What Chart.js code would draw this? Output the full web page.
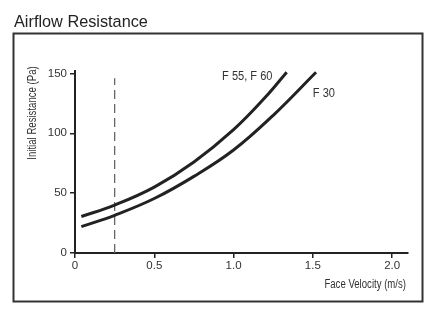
<!DOCTYPE html>
<html>
<head>
<meta charset="utf-8">
<script src="https://cdn.jsdelivr.net/npm/chart.js@4.4.0/dist/chart.umd.min.js"></script>
<style>
html, body { margin: 0; padding: 0; background: #fff; }
#grafico { display: block; }
</style>
</head>
<body>
<canvas id="grafico" width="444" height="322"></canvas>
<script>
// Datos
const series = ['F 55, F 60', 'F 30'];
const velocidadF55 = [0.04, 0.25, 0.5, 0.75, 1.0, 1.2, 1.335];
const resistenciaF55 = [30.5, 40, 55, 76, 103, 130, 151];
const velocidadF30 = [0.04, 0.25, 0.5, 0.75, 1.0, 1.25, 1.52];
const resistenciaF30 = [22, 31.5, 45.5, 64, 86, 115, 151];
const lineaVelocidad = [0.25, 0.25];
const lineaResistencia = [0, 146];
const ticksX = [0, 0.5, 1.0, 1.5, 2.0];
const ticksY = [0, 50, 100, 150];

const aPuntos = (xs, ys) => xs.map((x, i) => ({ x: x, y: ys[i] }));

const fuente = '"Liberation Sans", Arial, sans-serif';

// Texto estrecho (el original usa una fuente condensada)
function textoEstrecho(ctx, texto, x, y, escala) {
    ctx.save();
    ctx.translate(x, y);
    ctx.scale(escala, 1);
    ctx.fillText(texto, 0, 0);
    ctx.restore();
}

// Marco, título y textos
const decoracion = {
    id: 'decoracion',
    afterDraw(chart) {
        const ctx = chart.ctx;
        const sx = chart.scales.x;
        const sy = chart.scales.y;
        ctx.save();

        ctx.strokeStyle = '#333';
        ctx.lineWidth = 2;
        ctx.strokeRect(13.5, 33.5, 409, 268);

        ctx.fillStyle = '#222';
        ctx.font = '16.3px ' + fuente;
        ctx.textAlign = 'left';
        ctx.textBaseline = 'alphabetic';
        ctx.fillText('Airflow Resistance', 14, 27);

        ctx.fillStyle = '#333';
        ctx.font = '12px ' + fuente;
        ctx.textAlign = 'right';
        ctx.textBaseline = 'middle';
        textoEstrecho(ctx, 'Face Velocity (m/s)', 406, 285, 0.8);

        ctx.save();
        ctx.translate(33, 113);
        ctx.rotate(-Math.PI / 2);
        ctx.textAlign = 'center';
        textoEstrecho(ctx, 'Initial Resistance (Pa)', 0, 0, 0.8);
        ctx.restore();

        ctx.font = '12px ' + fuente;
        ctx.textAlign = 'right';
        textoEstrecho(ctx, series[0], sx.getPixelForValue(1.245), sy.getPixelForValue(147.5), 0.92);
        ctx.textAlign = 'left';
        textoEstrecho(ctx, series[1], sx.getPixelForValue(1.5), sy.getPixelForValue(133), 0.92);

        ctx.restore();
    }
};

const ejeComun = {
    grid: { drawOnChartArea: false, color: '#222', lineWidth: 1.5, tickLength: 5 },
    border: { color: '#222', width: 2 }
};

new Chart(document.getElementById('grafico').getContext('2d'), {
    type: 'scatter',
    data: {
        datasets: [{
            label: series[0],
            data: aPuntos(velocidadF55, resistenciaF55),
            showLine: true,
            borderColor: '#222',
            borderWidth: 3,
            pointRadius: 0,
            tension: 0.4
        }, {
            label: series[1],
            data: aPuntos(velocidadF30, resistenciaF30),
            showLine: true,
            borderColor: '#222',
            borderWidth: 3,
            pointRadius: 0,
            tension: 0.4
        }, {
            label: 'diseño',
            data: aPuntos(lineaVelocidad, lineaResistencia),
            showLine: true,
            borderColor: '#666',
            borderWidth: 1.3,
            borderDash: [9, 5],
            pointRadius: 0
        }]
    },
    options: {
        responsive: false,
        animation: false,
        layout: { padding: { left: 0, top: 71, right: 36, bottom: 49 } },
        plugins: { legend: { display: false }, tooltip: { enabled: false } },
        scales: {
            x: {
                type: 'linear',
                min: 0,
                max: 2.1,
                afterBuildTicks: s => { s.ticks = ticksX.map(v => ({ value: v })); },
                afterFit: s => { s.height = 20; },
                ticks: {
                    padding: 1,
                    color: '#333',
                    font: { family: fuente, size: 11.5 },
                    callback: v => v === 0 ? '0' : v.toFixed(1)
                },
                ...ejeComun
            },
            y: {
                min: 0,
                max: 152,
                afterBuildTicks: s => { s.ticks = ticksY.map(v => ({ value: v })); },
                afterFit: s => { s.width = 75; },
                ticks: {
                    padding: 3,
                    color: '#333',
                    font: { family: fuente, size: 11.5 }
                },
                ...ejeComun
            }
        }
    },
    plugins: [decoracion]
});
</script>
</body>
</html>
